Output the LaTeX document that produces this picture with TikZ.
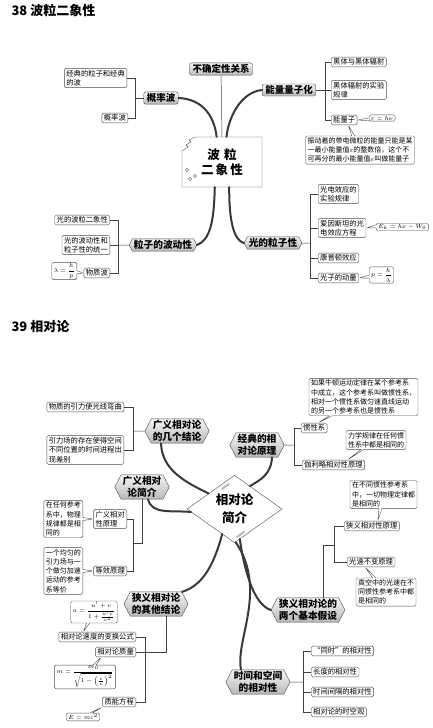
\documentclass[tikz,border=0pt]{standalone}
\usepackage{fontspec}
\setmainfont{Noto Sans CJK SC}
\usepackage{amsmath}
\usetikzlibrary{shapes.symbols,shapes.callouts,shapes.geometric}

\begin{document}
\begin{tikzpicture}[x=1pt,y=-1pt,
  topic/.style={draw=gray!60!black, rounded corners=2pt, top color=gray!8, bottom color=gray!55,
    font=\fontsize{9.5}{11.5}\selectfont\bfseries, inner xsep=3pt, inner ysep=1.5pt, align=center},
  hexa/.style={signal, signal to=east and west, signal pointer angle=125, draw=gray!60!black,
    top color=gray!8, bottom color=gray!55, font=\fontsize{9.7}{12}\selectfont\bfseries,
    inner xsep=1.5pt, inner ysep=1.5pt, align=center},
  leaf/.style={draw=gray!60!black, rounded corners=1.5pt, fill=white, font=\fontsize{7.3}{9.5}\selectfont,
    inner xsep=2pt, inner ysep=1.5pt, align=left},
  bubble/.style={rectangle callout, callout pointer width=3pt, draw=gray!60!black, rounded corners=1.5pt,
    fill=white, font=\fontsize{7}{9.3}\selectfont, inner xsep=2pt, inner ysep=1.5pt, align=left},
  formula/.style={bubble, font=\fontsize{6}{7}\selectfont, inner ysep=1pt},
  link/.style={draw=gray!50!black, line width=0.5pt},
  branch/.style={draw=gray!45!black, line width=2pt, line cap=round},
  heading/.style={font=\fontsize{13}{15}\selectfont\bfseries, anchor=west},
]
\fill[white] (0,0) rectangle (432,728);
\useasboundingbox (0,0) rectangle (432,728);

% 38
\node[heading] (t38) at (8,11) {38 波粒二象性};

\draw[draw=gray!60!black, fill=white] (195,137) -- (262,137) -- (262,187) -- (182,187) -- (182,151)
  -- (188,147) -- (186,145) -- (191,142) -- (189,140) -- cycle;
\foreach \cx/\cy in {187/170, 190/179, 195/176}
  \draw[gray!60!black] (\cx,\cy) circle[radius=1.6pt];
\node[minimum width=80pt, minimum height=50pt, font=\fontsize{12.5}{15}\selectfont\bfseries, align=center] (core1) at (222,162) {波\,\,粒\\二\,象\,性};

\node[topic] (uc) at (221,69) {不确定性关系};
\node[topic] (pw) at (161,98) {概率波};
\node[topic] (eq) at (289,90) {能量量子化};
\node[hexa] (wv) at (163,245) {粒子的波动性};
\node[hexa] (lp) at (273,243) {光的粒子性};

\draw[link] (uc) -- (core1.north);
\draw[branch] (pw.east) .. controls (202,99) and (214,115) .. (core1.102);
\draw[branch] (eq.west) .. controls (242,92) and (229,115) .. (core1.80);
\draw[branch] (core1.254) .. controls (214,222) and (210,240) .. (wv.east);
\draw[branch] (core1.286) .. controls (229,222) and (234,240) .. (lp.west);

% probability wave
\coordinate (k1) at (135,98);
\node[leaf, anchor=east] (pw1) at (127,78) {经典的粒子和经典\\的波};
\node[leaf, anchor=east] (pw2) at (128,118) {概率波};
\draw[link] (pw) -- (k1);
\draw[link] (k1) |- (pw1);
\draw[link] (k1) |- (pw2);

% quanta
\coordinate (k2) at (325,90);
\node[leaf, anchor=west] (eq1) at (331,62) {黑体与黑体辐射};
\node[leaf, anchor=west] (eq2) at (331,90) {黑体辐射的实验\\规律};
\node[leaf, anchor=west] (eq3) at (331,120) {能量子};
\node[formula, anchor=west, callout absolute pointer={(eq3.east)}] (eqf) at (369,118) {$\varepsilon=h\nu$};
\node[bubble, callout absolute pointer={([xshift=4pt]eq3.south)}] (eqn) at (360,150) {振动着的带电微粒的能量只能是某\\一最小能量值$\varepsilon$的整数倍，这个不\\可再分的最小能量值$\varepsilon$叫做能量子};
\draw[link] (eq) -- (k2);
\draw[link] (k2) |- (eq1);
\draw[link] (k2) |- (eq2);
\draw[link] (k2) |- (eq3);

% wave nature of particles
\coordinate (k3) at (118,245);
\node[leaf, anchor=east] (wv1) at (110,220) {光的波粒二象性};
\node[leaf, anchor=east] (wv2) at (110,245) {光的波动性和\\粒子性的统一};
\node[leaf, anchor=east] (wv3) at (110,273) {物质波};
\node[formula, anchor=east, callout absolute pointer={(wv3.west)}] (wvf) at (77,271) {$\lambda=\dfrac{h}{p}$};
\draw[link] (wv) -- (k3);
\draw[link] (k3) |- (wv1);
\draw[link] (k3) |- (wv2);
\draw[link] (k3) |- (wv3);

% particle nature of light
\coordinate (k4) at (310,243);
\node[leaf, anchor=west] (lp1) at (318,194) {光电效应的\\实验规律};
\node[leaf, anchor=west] (lp2) at (318,228) {爱因斯坦的光\\电效应方程};
\node[leaf, anchor=west] (lp3) at (318,258) {康普顿效应};
\node[leaf, anchor=west] (lp4) at (318,278) {光子的动量};
\node[formula, anchor=west, callout absolute pointer={(lp2.east)}] (lpf) at (376,227) {$E_k=h\nu-W_0$};
\node[formula, anchor=west, callout absolute pointer={(lp4.east)}] (lpg) at (369,275) {$p=\dfrac{h}{\lambda}$};
\draw[link] (lp) -- (k4);
\draw[link] (k4) |- (lp1);
\draw[link] (k4) |- (lp2);
\draw[link] (k4) |- (lp3);
\draw[link] (k4) |- (lp4);

% 39
\node[heading] (t39) at (8,327) {39 相对论};

\node[diamond, draw=gray!60!black, fill=white, minimum width=95pt, minimum height=67pt, inner sep=0pt,
  font=\fontsize{12.5}{18}\selectfont\bfseries, align=center] (core2) at (234.5,509) {相对论\\简介};
\draw[gray!55, line width=2pt, line cap=round] (222,489) -- (229,484);
\draw[gray!55, line width=2pt, line cap=round] (237,537) -- (244,532);

\node[hexa] (gx) at (177,431) {广义相对论\\的几个结论};
\node[hexa] (jd) at (257,445) {经典的相\\对论原理};
\node[hexa] (gj) at (142,487) {广义相对\\论简介};
\node[hexa] (xq) at (156,604) {狭义相对论\\的其他结论};
\node[hexa] (xl) at (308,610) {狭义相对论的\\两个基本假设};
\node[hexa] (sk) at (258,682) {时间和空间\\的相对性};

\draw[branch] ([xshift=-16pt]gx.south) .. controls (162,470) and (185,482) .. (core2.149);
\draw[branch] ([xshift=15pt]jd.south) .. controls (271,475) and (260,480) .. (core2.56);
\draw[branch] ([xshift=6pt]gj.south) .. controls (152,515) and (172,510) .. (core2.184);
\draw[branch] (core2.244) .. controls (215,560) and (205,585) .. (xq.25);
\draw[branch] (core2.280) .. controls (245,575) and (255,605) .. (xl.west);
\draw[branch] (core2.272) .. controls (268,590) and (235,640) .. ([xshift=-17pt]sk.north);

% general relativity results
\coordinate (k5) at (133,431);
\node[leaf, anchor=east] (gx1) at (124,407) {物质的引力使光线弯曲};
\node[leaf, anchor=east] (gx2) at (124,450) {引力场的存在使得空间\\不同位置的时间进程出\\现差别};
\draw[link] (gx) -- (k5);
\draw[link] (k5) |- (gx1);
\draw[link] (k5) |- (gx2);

% classical relativity
\coordinate (k6) at (294,445);
\node[leaf, anchor=west] (jd1) at (301,428) {惯性系};
\node[leaf, anchor=west] (jd2) at (302,465) {伽利略相对性原理};
\node[bubble, callout absolute pointer={([xshift=4pt]jd1.north)}] (jdb) at (363.5,397) {如果牛顿运动定律在某个参考系\\中成立，这个参考系叫做惯性系，\\相对一个惯性系做匀速直线运动\\的另一个参考系也是惯性系};
\node[bubble, callout absolute pointer={([xshift=14pt]jd2.north)}] (jdc) at (376,440) {力学规律在任何惯\\性系中都是相同的};
\draw[link] (jd) -- (k6);
\draw[link] (k6) |- (jd1);
\draw[link] (k6) |- (jd2);

% general relativity intro
\coordinate (k7) at (133,543);
\node[leaf, anchor=east] (gj1) at (127,519) {广义相对\\性原理};
\node[leaf, anchor=east] (gj2) at (127,571) {等效原理};
\node[bubble, anchor=east, callout absolute pointer={(gj1.west)}] (gjb) at (83,519) {在任何参考\\系中，物理\\规律都是相\\同的};
\node[bubble, anchor=east, callout absolute pointer={(gj2.west)}] (gjc) at (83,571) {一个均匀的\\引力场与一\\个做匀加速\\运动的参考\\系等价};
\draw[link] (k7) |- (gj1);
\draw[link] (k7) |- (gj2);
\draw[link] (k7) -| (gj);

% other results of special relativity
\coordinate (k8) at (145,652);
\coordinate (k8b) at (166,652);
\node[leaf, anchor=east] (xq1) at (136,637) {相对论速度的变换公式};
\node[leaf, anchor=east] (xq2) at (136,652) {相对论质量};
\node[leaf, anchor=east] (xq3) at (136,702) {质能方程};
\node[formula, callout absolute pointer={([xshift=-14pt]xq1.north)}] (xqf) at (94,612) {$u=\dfrac{u'+v}{1+\frac{u'v}{c^2}}$};
\node[formula, callout absolute pointer={([xshift=6pt]xq2.south west)}] (xqm) at (85,677) {$m=\dfrac{m_0}{\sqrt{1-\left(\frac{v}{c}\right)^2}}$};
\node[formula, callout absolute pointer={(xq3.south west)}] (xqe) at (83,717) {$E=mc^2$};
\draw[link] (k8) |- (xq1);
\draw[link] (k8) |- (xq3);
\draw[link] (xq2) -- (k8b) -- (xq.south -| k8b);

% two postulates
\coordinate (k9) at (334,545);
\coordinate (k9b) at (323,545);
\node[leaf, anchor=west] (xl1) at (344,526) {狭义相对性原理};
\node[leaf, anchor=west] (xl2) at (347,562) {光速不变原理};
\node[bubble, callout absolute pointer={([xshift=6pt]xl1.north)}] (xlb) at (383.5,494.5) {在不同惯性参考系\\中，一切物理定律都\\是相同的};
\node[bubble, callout absolute pointer={([xshift=-6pt]xl2.south)}] (xlc) at (386,592) {真空中的光速在不\\同惯性参考系中都\\是相同的};
\draw[link] (k9) |- (xl1);
\draw[link] (k9) |- (xl2);
\draw[link] (k9) -- (k9b) -- (xl.north -| k9b);

% space and time
\coordinate (k10) at (303,682);
\node[leaf, anchor=west] (sk1) at (311,651) {“同时”的相对性};
\node[leaf, anchor=west] (sk2) at (311,672) {长度的相对性};
\node[leaf, anchor=west] (sk3) at (311,692) {时间间隔的相对性};
\node[leaf, anchor=west] (sk4) at (311,712) {相对论的时空观};
\draw[link] (sk) -- (k10);
\draw[link] (k10) |- (sk1);
\draw[link] (k10) |- (sk2);
\draw[link] (k10) |- (sk3);
\draw[link] (k10) |- (sk4);
\end{tikzpicture}
\end{document}
